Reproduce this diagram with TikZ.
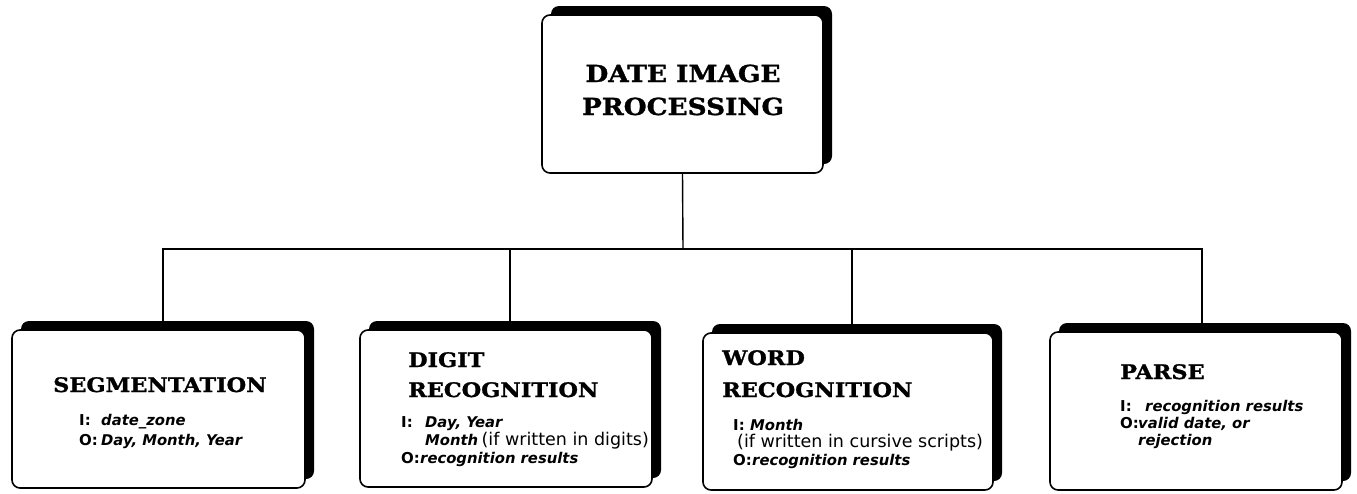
\documentclass[tikz,border=0pt]{standalone}
\usepackage{fontspec}
\setmainfont{Liberation Serif}
\newfontfamily\titlefont[FakeStretch=1.12, BoldFeatures={FakeBold=1.2}]{DejaVu Serif}
\newfontfamily\labfont{DejaVu Sans}
\usetikzlibrary{shadows,calc}

\tikzset{
  box/.style={draw, line width=1.6pt, rounded corners=8pt, fill=white,
    inner sep=0pt,
    drop shadow={shadow xshift=9pt, shadow yshift=9pt, fill=black, opacity=1}},
  wire/.style={line width=1.4pt},
  bigtitle/.style={anchor=base, inner sep=0pt,
    font=\titlefont\bfseries\fontsize{23.5}{28}\selectfont},
  ttl/.style={anchor=base west, inner sep=0pt,
    font=\titlefont\bfseries\fontsize{20}{24}\selectfont},
  lab/.style={anchor=base west, inner sep=0pt,
    font=\labfont\bfseries\fontsize{15}{18}\selectfont},
  itx/.style={anchor=base west, inner sep=0pt,
    font=\labfont\bfseries\itshape\fontsize{14.8}{18}\selectfont},
  rmx/.style={anchor=base west, inner sep=0pt,
    font=\labfont\fontsize{17.5}{21}\selectfont},
}

\begin{document}
\begin{tikzpicture}[x=1pt, y=-1pt]
\useasboundingbox (0,0) rectangle (1357,493);

% boxes
\node[box, minimum width=281pt, minimum height=158pt] (top) at (682.5,94) {};
\node[box, minimum width=293pt, minimum height=158pt] (seg) at (158.5,409) {};
\node[box, minimum width=292pt, minimum height=157pt] (dig) at (506,408.5) {};
\node[box, minimum width=290pt, minimum height=157pt] (wrd) at (848,411.5) {};
\node[box, minimum width=292pt, minimum height=158pt] (prs) at (1196,411) {};

% tree connectors
\coordinate (bus) at (683,249);
\draw[wire] (top.south) -- (bus);
\draw[wire] ([xshift=4.5pt]seg.north) |- (bus);
\draw[wire] ([xshift=4pt]dig.north) |- (bus);
\draw[wire] ([xshift=4pt]wrd.north) |- (bus);
\draw[wire] ([xshift=6pt]prs.north) |- (bus);

% top box
\node[bigtitle] (t1) at (683,82) {DATE IMAGE};
\node[bigtitle] (t2) at (683,115) {PROCESSING};

% segmentation
\node[ttl] (segT) at (53,392) {SEGMENTATION};
\node[lab] (segI) at (79,425) {I:};
\node[itx] (segIt) at (101,425) {date\_zone};
\node[lab] (segO) at (79,445) {O:};
\node[itx] (segOt) at (101,445) {Day, Month, Year};

% digit recognition
\node[ttl] (digT1) at (408,367) {DIGIT};
\node[ttl] (digT2) at (408,397) {RECOGNITION};
\node[lab] (digI) at (401,427) {I:};
\node[itx] (digIt) at (425,427) {Day, Year};
\node[itx] (digIt2) at (425,445) {Month};
\node[rmx, anchor=base west] (digIt3) at ([xshift=3pt]digIt2.base east) {(if written in digits)};
\node[lab] (digO) at (401,463) {O:};
\node[itx] (digOt) at (420,463) {recognition results};

% word recognition
\node[ttl] (wrdT1) at (722,365) {WORD};
\node[ttl] (wrdT2) at (722,397) {RECOGNITION};
\node[lab] (wrdI) at (733,430) {I:};
\node[itx] (wrdIt) at (750,430) {Month};
\node[rmx] (wrdIt2) at (737,447) {(if written in cursive scripts)};
\node[lab] (wrdO) at (733,465) {O:};
\node[itx] (wrdOt) at (752,465) {recognition results};

% parse
\node[ttl] (prsT) at (1120,379) {PARSE};
\node[lab] (prsI) at (1120,411) {I:};
\node[itx] (prsIt) at (1145,411) {recognition results};
\node[lab] (prsO) at (1120,428) {O:};
\node[itx] (prsOt) at (1138,428) {valid date, or};
\node[itx] (prsOt2) at (1138,445) {rejection};
\end{tikzpicture}
\end{document}
